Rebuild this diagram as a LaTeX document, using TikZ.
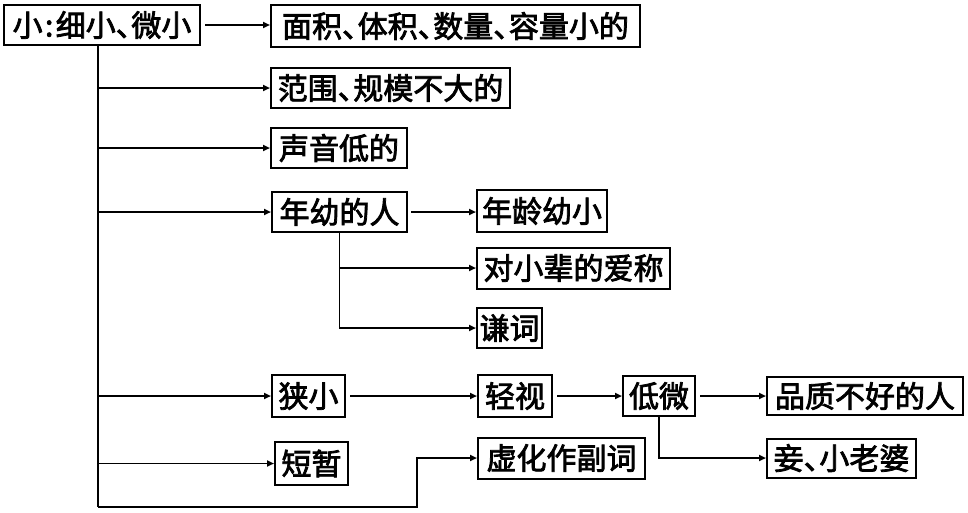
\documentclass[tikz,border=0pt]{standalone}
\usepackage{fontspec}
\newfontfamily\cjk[FakeBold=2.5]{Noto Sans CJK SC}
\newcommand\dn{、\kern-0.48em}
\usetikzlibrary{arrows.meta}
\begin{document}
\begin{tikzpicture}[x=1pt,y=-1pt,
  box/.style={draw,line width=2pt,inner sep=0pt,font=\cjk\fontsize{30}{30}\selectfont},
  ln/.style={line width=1.8pt},
  arr/.style={line width=1.8pt,-{Triangle[length=7pt,width=6pt]}}]
\useasboundingbox (0,0) rectangle (968,512);
\node[box,minimum width=196pt,minimum height=40pt] (root) at (102,25) {小\kern0.08em:\kern0.08em细小\dn 微小};
\node[box,minimum width=369pt,minimum height=42pt] (A) at (455.5,26) {面积\dn 体积\dn 数量\dn 容量小的};
\node[box,minimum width=239pt,minimum height=40pt] (B) at (390.5,88) {范围\dn 规模不大的};
\node[box,minimum width=136pt,minimum height=40pt] (C) at (339,148) {声音低的};
\node[box,minimum width=135pt,minimum height=40pt] (D) at (339.5,212) {年幼的人};
\node[box,minimum width=130pt,minimum height=42pt] (E) at (542,211) {年龄幼小};
\node[box,minimum width=193pt,minimum height=41pt] (F) at (573.5,268) {对小辈的爱称};
\node[box,minimum width=65pt,minimum height=40pt] (G) at (509.5,328) {谦词};
\node[box,minimum width=73pt,minimum height=42pt] (H) at (308.5,396) {狭小};
\node[box,minimum width=73pt,minimum height=43pt] (I) at (311.5,463.5) {短暂};
\node[box,minimum width=74pt,minimum height=42pt] (K) at (515,396) {轻视};
\node[box,minimum width=167pt,minimum height=41pt] (J) at (561.5,458) {虚化作副词};
\node[box,minimum width=72pt,minimum height=40pt] (L) at (659,396) {低微};
\node[box,minimum width=196pt,minimum height=38pt] (M) at (865,396) {品质不好的人};
\node[box,minimum width=149pt,minimum height=39pt] (N) at (841.5,458) {妾\dn 小老婆};
\coordinate (tt) at (98,45);
\coordinate (tb) at (98,507);
\coordinate (bend) at (417,458);
\draw[arr] (root.east) ++(4,0) -- (root.east -| A.west);
\draw[ln] (tt) -- (tb);
\draw[arr] (tb) -| (bend) -- (bend -| J.west);
\foreach \n in {B,C,D,H,I} \draw[arr] (tt |- \n.west) -- (\n.west);
\draw[arr] (D.east) ++(3,0) -- (D.east -| E.west);
\draw[arr] (D.south) |- (F.west);
\draw[arr] (D.south) |- (G.west);
\draw[arr] (H.east) ++(4,0) -- (H.east -| K.west);
\draw[arr] (K.east) ++(4,0) -- (K.east -| L.west);
\draw[arr] (L.east) ++(4,0) -- (L.east -| M.west);
\draw[arr] (L.south) |- (N.west);
\end{tikzpicture}
\end{document}
